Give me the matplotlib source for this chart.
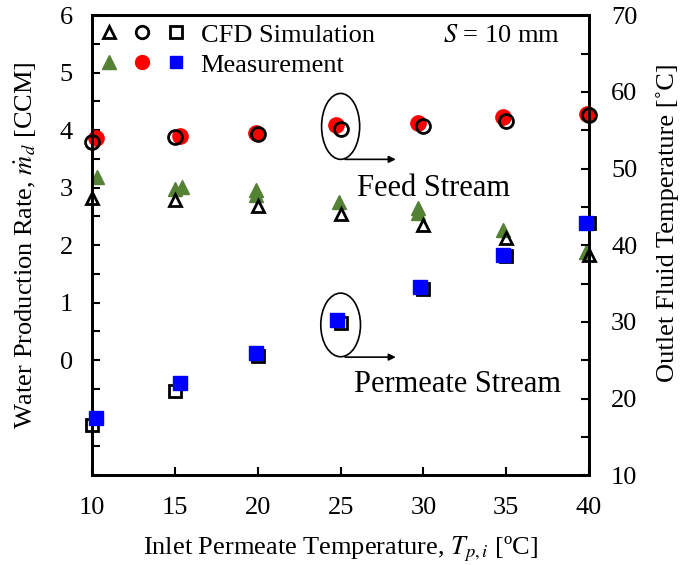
import numpy as np
import matplotlib
matplotlib.use("Agg")
from matplotlib import pyplot as plt
from matplotlib.lines import Line2D
from matplotlib.legend_handler import HandlerTuple
from matplotlib.patches import Ellipse

plt.rcParams['font.family'] = ['Liberation Serif', 'DejaVu Serif']
plt.rcParams['mathtext.fontset'] = 'stix'

# Water production rate [CCM] (left axis)
x_cfd = [10, 15, 20, 25, 30, 35, 40]
rate_cfd = [2.82, 2.78, 2.68, 2.54, 2.36, 2.12, 1.83]
x_rate_meas = [10.3, 15.0, 15.4, 19.9, 19.9, 24.9, 29.7, 29.7, 34.8, 39.8]
rate_meas = [3.18, 2.97, 3.01, 2.96, 2.87, 2.75, 2.64, 2.56, 2.26, 1.88]

# Outlet fluid temperature [C] (right axis)
feed_cfd = [53.4, 54.1, 54.5, 55.1, 55.5, 56.2, 57.0]
x_feed_meas = [10.2, 15.3, 19.9, 24.7, 29.7, 34.8, 39.9]
feed_meas = [54.0, 54.2, 54.6, 55.7, 55.9, 56.7, 57.1]
perm_cfd = [16.5, 21.0, 25.5, 29.8, 34.3, 38.6, 42.9]
x_perm_meas = [10.2, 15.3, 19.9, 24.8, 29.8, 34.8, 39.8]
perm_meas = [17.4, 22.0, 26.0, 30.2, 34.5, 38.7, 42.9]

green = '#548235'
fs = 19

fig = plt.figure(figsize=(6.84, 5.65), dpi=100)
ax = fig.add_axes([0.135, 0.159, 0.726, 0.814])
ax2 = ax.twinx()

# triangles: water production rate
ax.plot(x_rate_meas, rate_meas, '^', color=green, ms=10, mec=green, zorder=2)
ax.plot(x_cfd, rate_cfd, '^', mfc='none', mec='black', mew=2, ms=9, zorder=3, clip_on=False)

# circles and squares: outlet temperatures
ax2.plot(x_feed_meas, feed_meas, 'o', color='red', ms=11, zorder=2, clip_on=False)
ax2.plot(x_cfd, feed_cfd, 'o', mfc='none', mec='black', mew=2, ms=10, zorder=3, clip_on=False)
ax2.plot(x_cfd, perm_cfd, 's', mfc='none', mec='black', mew=2, ms=9, zorder=2, clip_on=False)
ax2.plot(x_perm_meas, perm_meas, 's', color='blue', ms=10, zorder=3, clip_on=False)

ax.set_xlim(10, 40)
ax.set_ylim(-2, 6)
ax2.set_ylim(10, 70)

ax.set_xticks(np.arange(10, 41, 5))
yt = np.arange(-2, 6.01, 0.5)
ax.set_yticks(yt)
ax.set_yticklabels(['%d' % v if v >= 0 and v == int(v) else '' for v in yt])
rt = np.arange(10, 71, 5)
ax2.set_yticks(rt)
ax2.set_yticklabels(['%d' % v if v % 10 == 0 else '' for v in rt])

ax.tick_params(axis='both', direction='in', length=6, width=1.5, labelsize=fs, pad=14)
ax.tick_params(axis='x', pad=16)
ax2.tick_params(axis='y', direction='in', length=6, width=1.5, labelsize=fs, pad=16)
for a in (ax, ax2):
    for s in a.spines.values():
        s.set_linewidth(2)

ax.set_xlabel(r'Inlet Permeate Temperature, $T_{p,i}$ [ºC]', fontsize=fs, labelpad=11)
ax.set_ylabel(r'Water Production Rate, $\dot{m}_d$ [CCM]', fontsize=fs, labelpad=15)
ax2.set_ylabel('Outlet Fluid Temperature [˚C]', fontsize=fs)
ax2.yaxis.set_label_coords(1.135, 0.548)

# annotations
ax2.add_patch(Ellipse((25.0, 55.5), 2.3, 8.6, fill=False, lw=1.2, color='black'))
ax2.add_patch(Ellipse((25.0, 29.6), 2.4, 8.3, fill=False, lw=1.2, color='black'))
ax2.annotate('', xy=(28.5, 51.2), xytext=(25.1, 51.2),
             arrowprops=dict(arrowstyle='-|>', color='black', lw=1.2))
ax2.annotate('', xy=(28.5, 25.4), xytext=(25.1, 25.4),
             arrowprops=dict(arrowstyle='-|>', color='black', lw=1.2))
ax2.text(26.0, 47.4, 'Feed Stream', fontsize=22, va='center', ha='left')
ax2.text(25.8, 21.8, 'Permeate Stream', fontsize=22, va='center', ha='left')
ax2.text(0.942, 0.955, r'$S$ = 10 mm', transform=ax2.transAxes, fontsize=fs, ha='right', va='center')

# legend
h_cfd = (Line2D([], [], ls='none', marker='^', mfc='none', mec='black', mew=2, ms=9),
         Line2D([], [], ls='none', marker='o', mfc='none', mec='black', mew=2, ms=9),
         Line2D([], [], ls='none', marker='s', mfc='none', mec='black', mew=2, ms=8))
h_meas = (Line2D([], [], ls='none', marker='^', color=green, ms=10),
          Line2D([], [], ls='none', marker='o', color='red', ms=10),
          Line2D([], [], ls='none', marker='s', color='blue', ms=9))
ax2.legend([h_cfd, h_meas], ['CFD Simulation', 'Measurement'],
           handler_map={tuple: HandlerTuple(ndivide=None, pad=0.6)},
           loc='upper left', frameon=False, fontsize=fs, handlelength=3.2,
           handletextpad=0.6, borderaxespad=0.1, labelspacing=0.25, borderpad=0.2)

fig.savefig('out.png', dpi=100)
